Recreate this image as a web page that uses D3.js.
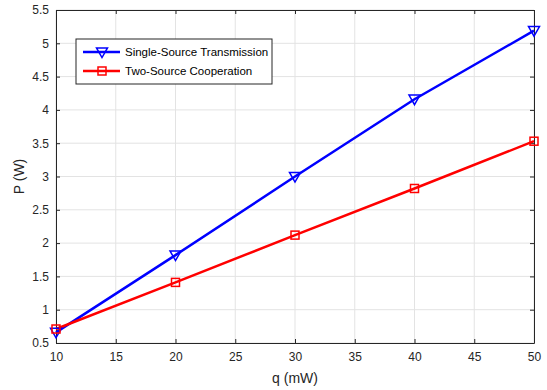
<!DOCTYPE html>
<html>
<head>
<meta charset="utf-8">
<script src="https://cdn.jsdelivr.net/npm/d3@7"></script>
<style>
  body { margin: 0; background: #fff; }
  svg { font-family: "Liberation Sans", Arial, sans-serif; }
</style>
</head>
<body>
<div id="chart"></div>
<script>
const qValues = [10, 20, 30, 40, 50];
const singleSource = [0.66, 1.82, 3.0, 4.16, 5.19];
const twoSource = [0.71, 1.41, 2.12, 2.82, 3.53];
const xTicks = [10, 15, 20, 25, 30, 35, 40, 45, 50];
const yTicks = [0.5, 1, 1.5, 2, 2.5, 3, 3.5, 4, 4.5, 5, 5.5];
const seriesNames = ['Single-Source Transmission', 'Two-Source Cooperation'];

const width = 547, height = 390;
const margin = { top: 10, right: 13, bottom: 47, left: 56 };
const w = width - margin.left - margin.right;
const h = height - margin.top - margin.bottom;

const svg = d3.select('#chart').append('svg')
  .attr('width', width)
  .attr('height', height);

const g = svg.append('g')
  .attr('transform', `translate(${margin.left},${margin.top})`);

const x = d3.scaleLinear().domain([10, 50]).range([0, w]);
const y = d3.scaleLinear().domain([0.5, 5.5]).range([h, 0]);

// grid
g.append('g').selectAll('line').data(xTicks).enter().append('line')
  .attr('x1', d => x(d)).attr('x2', d => x(d))
  .attr('y1', 0).attr('y2', h)
  .attr('stroke', '#e3e3e3').attr('stroke-width', 1);
g.append('g').selectAll('line').data(yTicks).enter().append('line')
  .attr('x1', 0).attr('x2', w)
  .attr('y1', d => y(d)).attr('y2', d => y(d))
  .attr('stroke', '#e3e3e3').attr('stroke-width', 1);

// axes
const axisColor = '#262626';
const xAxis = g.append('g')
  .attr('transform', `translate(0,${h})`)
  .call(d3.axisBottom(x).tickValues(xTicks).tickSize(-4).tickPadding(9).tickSizeOuter(0));
const xTop = g.append('g')
  .call(d3.axisTop(x).tickValues(xTicks).tickSize(-4).tickFormat('').tickSizeOuter(0));
const yAxis = g.append('g')
  .call(d3.axisLeft(y).tickValues(yTicks).tickFormat(d => String(d)).tickSize(-4).tickPadding(7).tickSizeOuter(0));
const yRight = g.append('g')
  .attr('transform', `translate(${w},0)`)
  .call(d3.axisRight(y).tickValues(yTicks).tickSize(-4).tickFormat('').tickSizeOuter(0));

[xAxis, xTop, yAxis, yRight].forEach(a => {
  a.select('.domain').attr('stroke', axisColor).attr('stroke-width', 1);
  a.selectAll('.tick line').attr('stroke', axisColor);
  a.selectAll('.tick text').attr('fill', axisColor).attr('font-size', 12)
    .attr('font-family', '"Liberation Sans", Arial, sans-serif');
});

// axis labels
svg.append('text')
  .attr('x', margin.left + w / 2).attr('y', 383)
  .attr('text-anchor', 'middle').attr('font-size', 14).attr('fill', axisColor)
  .text('q (mW)');
svg.append('text')
  .attr('transform', `translate(24,${margin.top + h / 2}) rotate(-90)`)
  .attr('text-anchor', 'middle').attr('font-size', 14).attr('fill', axisColor)
  .text('P (W)');

const line = d3.line().x(d => x(d[0])).y(d => y(d[1]));
const blueData = qValues.map((q, i) => [q, singleSource[i]]);
const redData = qValues.map((q, i) => [q, twoSource[i]]);

g.append('path').datum(blueData)
  .attr('fill', 'none').attr('stroke', '#0000ff').attr('stroke-width', 2.5).attr('d', line);
g.append('path').datum(redData)
  .attr('fill', 'none').attr('stroke', '#ff0000').attr('stroke-width', 2.5).attr('d', line);

const tri = s => `M${-s},${-s * 0.75} L${s},${-s * 0.75} L0,${s} Z`;

g.selectAll('.tri').data(blueData).enter().append('path')
  .attr('class', 'tri')
  .attr('transform', d => `translate(${x(d[0])},${y(d[1])})`)
  .attr('d', tri(5.5))
  .attr('fill', 'none').attr('stroke', '#0000ff').attr('stroke-width', 1.5);

g.selectAll('.sq').data(redData).enter().append('rect')
  .attr('class', 'sq')
  .attr('x', d => x(d[0]) - 4).attr('y', d => y(d[1]) - 4)
  .attr('width', 8).attr('height', 8)
  .attr('fill', 'none').attr('stroke', '#ff0000').attr('stroke-width', 1.5);

// legend
const legend = svg.append('g').attr('transform', 'translate(76,39)');
legend.append('rect')
  .attr('width', 196).attr('height', 45)
  .attr('fill', '#fff').attr('stroke', axisColor).attr('stroke-width', 1);

const colors = ['#0000ff', '#ff0000'];
seriesNames.forEach((name, i) => {
  const ly = 13 + i * 19;
  legend.append('line')
    .attr('x1', 7).attr('x2', 44).attr('y1', ly).attr('y2', ly)
    .attr('stroke', colors[i]).attr('stroke-width', 2.5);
  if (i === 0) {
    legend.append('path')
      .attr('transform', `translate(26,${ly})`)
      .attr('d', tri(5.5))
      .attr('fill', 'none').attr('stroke', colors[i]).attr('stroke-width', 1.5);
  } else {
    legend.append('rect')
      .attr('x', 22).attr('y', ly - 4).attr('width', 8).attr('height', 8)
      .attr('fill', 'none').attr('stroke', colors[i]).attr('stroke-width', 1.5);
  }
  legend.append('text')
    .attr('x', 49).attr('y', ly + 4)
    .attr('font-size', 11.5).attr('fill', '#000')
    .text(name);
});
</script>
</body>
</html>
